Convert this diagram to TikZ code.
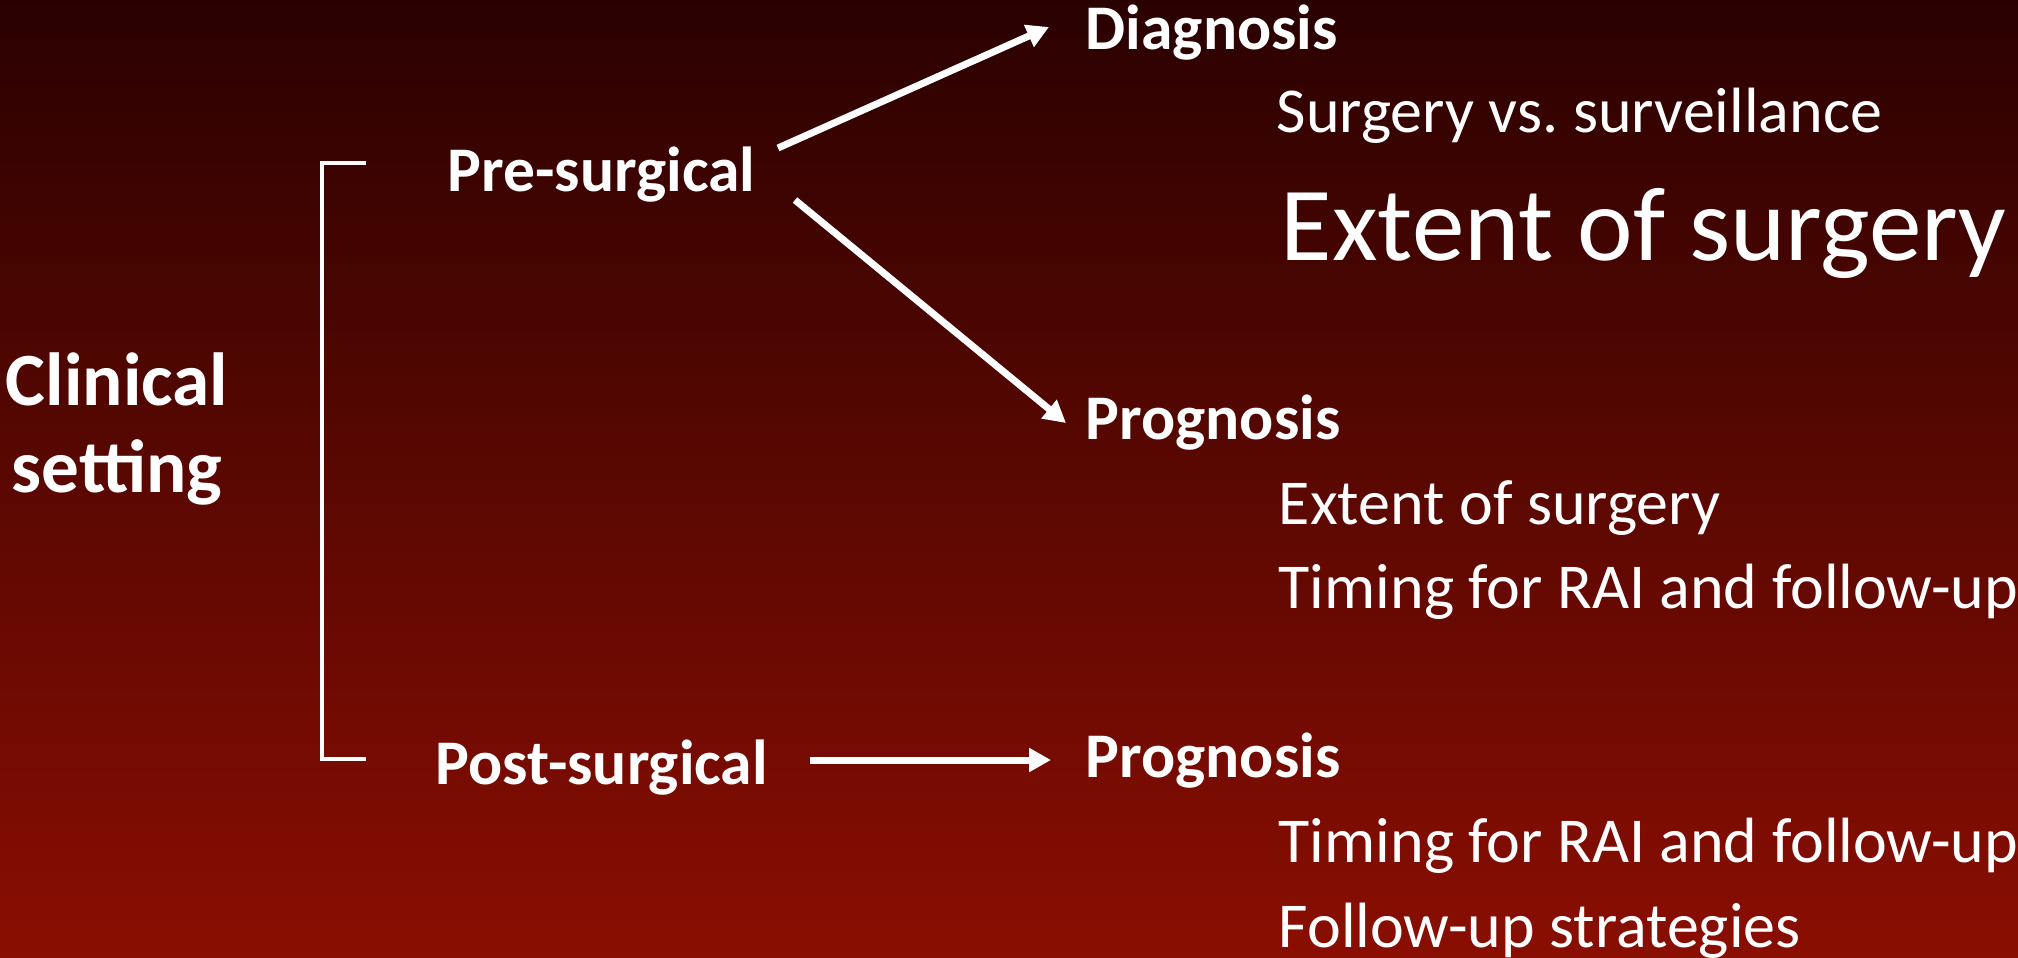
\documentclass[tikz,border=0pt]{standalone}
\usepackage{fontspec}
\setmainfont{Carlito}
\frenchspacing
\usetikzlibrary{arrows.meta}
\definecolor{bgtop}{RGB}{42,1,1}
\definecolor{bgbot}{RGB}{138,14,2}
\begin{document}
\begin{tikzpicture}[x=0.25pt,y=-0.25pt,
  lbl/.style={inner sep=0pt, anchor=base west, text=white, font=\fontsize{16}{18}\selectfont},
  head/.style={lbl, font=\fontsize{15.9}{18}\selectfont\bfseries},
  big/.style={lbl, font=\fontsize{26.3}{30}\selectfont},
  arr/.style={draw=white, line width=1.75pt, -{Triangle[length=5.5pt,width=5.75pt]}},
  brk/.style={draw=white, line width=1pt}]
\shade[top color=bgtop,bottom color=bgbot] (0,0) rectangle (2018,957);
\useasboundingbox (0,0) rectangle (2018,957);

\node[head] (diag) at (1085,49) {Diagnosis};
\node[lbl] (s1) at (1276,132) {Surgery vs.\ surveillance};
\node[big] (ext1) at (1280,260) {Extent of surgery};
\node[head] (prog1) at (1085,439) {Prognosis};
\node[lbl] (ext2) at (1278,524) {Extent of surgery};
\node[lbl] (tim1) at (1278,608) {Timing for RAI and follow-up};
\node[head] (prog2) at (1085,777) {Prognosis};
\node[lbl] (tim2) at (1278,862) {Timing for RAI and follow-up};
\node[lbl] (fol) at (1278,947) {Follow-up strategies};
\node[head] (pre) at (447,191) {Pre-surgical};
\node[head] (post) at (435,784) {Post-surgical};
\node[text=white, inner sep=0pt, align=center, anchor=base,
      font=\fontsize{18.8}{21.75}\selectfont\bfseries] (clin) at (117,492) {Clinical\\setting};

\coordinate (pu) at (778,148);
\coordinate (du) at (1049,27);
\coordinate (pd) at (795,200);
\coordinate (pg) at (1066,423);
\coordinate (ps) at (810,760);
\coordinate (pg2) at (1051,760);
\draw[arr] (pu) -- (du);
\draw[arr] (pd) -- (pg);
\draw[arr] (ps) -- (pg2);

\coordinate (bt) at (366,163);
\coordinate (bb) at (366,759);
\draw[brk] (bt) -- (322,163) -- (322,759) -- (bb);
\end{tikzpicture}
\end{document}
